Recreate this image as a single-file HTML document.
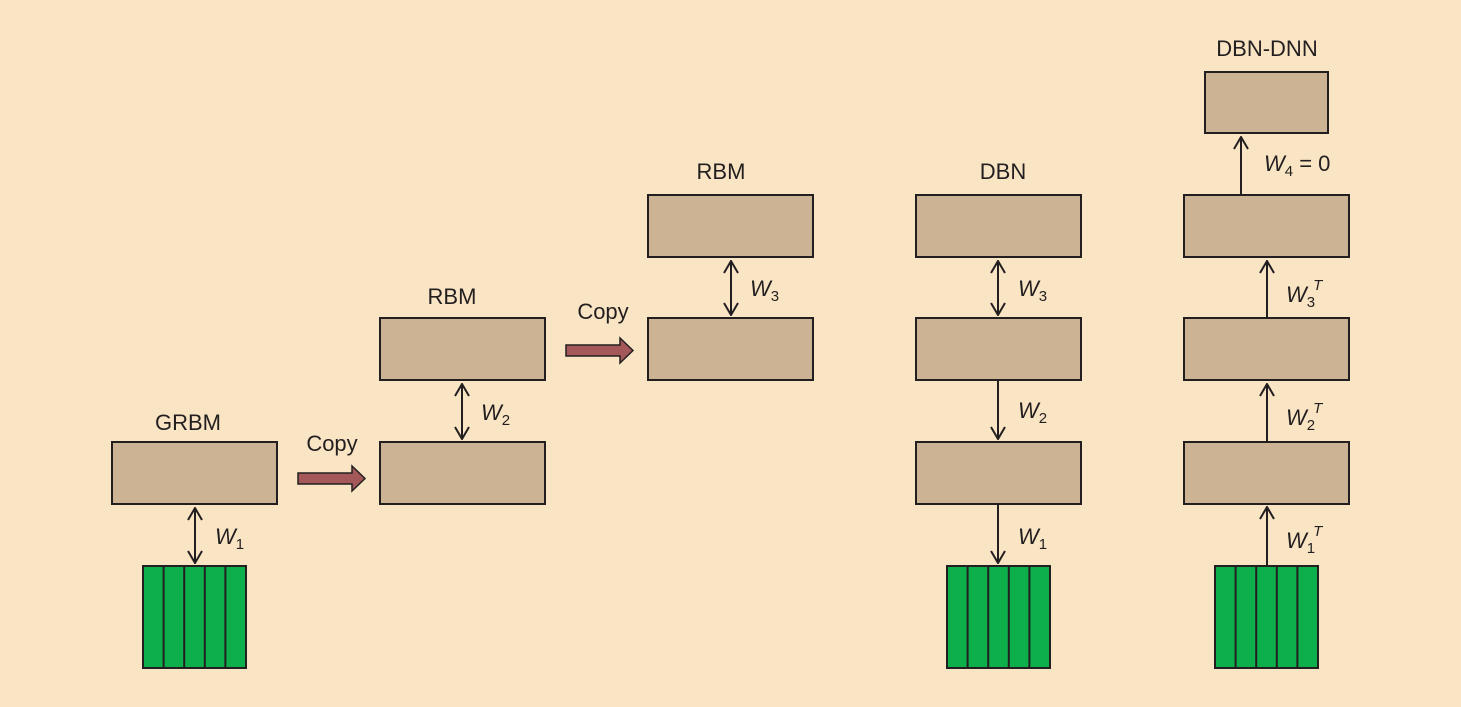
<!DOCTYPE html>
<html><head><style>
html,body{margin:0;padding:0;background:#f9e4c4;overflow:hidden;width:1461px;height:707px;}
svg{display:block;}
text{font-family:"Liberation Sans",Arial,sans-serif;fill:#231f20;}
</style></head><body>
<svg width="1461" height="707" viewBox="0 0 1461 707" xmlns="http://www.w3.org/2000/svg">
<defs>
<marker id="h" viewBox="0 0 14 16" refX="13" refY="8" markerWidth="14" markerHeight="16" markerUnits="userSpaceOnUse" orient="auto-start-reverse">
<path d="M1 1 L13 8 L1 15" fill="none" stroke="#231f20" stroke-width="2"/>
</marker>
<g id="grid">
<rect x="0" y="0" width="103" height="102" fill="#0daf4b" stroke="#231f20" stroke-width="2"/>
<line x1="20.6" y1="0" x2="20.6" y2="102" stroke="#231f20" stroke-width="2"/>
<line x1="41.2" y1="0" x2="41.2" y2="102" stroke="#231f20" stroke-width="2"/>
<line x1="61.8" y1="0" x2="61.8" y2="102" stroke="#231f20" stroke-width="2"/>
<line x1="82.4" y1="0" x2="82.4" y2="102" stroke="#231f20" stroke-width="2"/>
</g>
</defs>
<g fill="#cbb393" stroke="#231f20" stroke-width="2">
<rect x="112" y="442" width="165" height="62"/>
<rect x="380" y="318" width="165" height="62"/>
<rect x="380" y="442" width="165" height="62"/>
<rect x="648" y="195" width="165" height="62"/>
<rect x="648" y="318" width="165" height="62"/>
<rect x="916" y="195" width="165" height="62"/>
<rect x="916" y="318" width="165" height="62"/>
<rect x="916" y="442" width="165" height="62"/>
<rect x="1205" y="72" width="123" height="61"/>
<rect x="1184" y="195" width="165" height="62"/>
<rect x="1184" y="318" width="165" height="62"/>
<rect x="1184" y="442" width="165" height="62"/>
</g>
<use href="#grid" x="143" y="566"/>
<use href="#grid" x="947" y="566"/>
<use href="#grid" x="1215" y="566"/>
<g stroke="#231f20" stroke-width="2" fill="none">
<line x1="195" y1="508" x2="195" y2="563" marker-start="url(#h)" marker-end="url(#h)"/>
<line x1="462" y1="384" x2="462" y2="439" marker-start="url(#h)" marker-end="url(#h)"/>
<line x1="731" y1="261" x2="731" y2="315" marker-start="url(#h)" marker-end="url(#h)"/>
<line x1="998" y1="261" x2="998" y2="315" marker-start="url(#h)" marker-end="url(#h)"/>
<line x1="998" y1="381" x2="998" y2="439" marker-end="url(#h)"/>
<line x1="998" y1="505" x2="998" y2="563" marker-end="url(#h)"/>
<line x1="1267" y1="565" x2="1267" y2="507" marker-end="url(#h)"/>
<line x1="1267" y1="441" x2="1267" y2="384" marker-end="url(#h)"/>
<line x1="1267" y1="317" x2="1267" y2="261" marker-end="url(#h)"/>
<line x1="1241" y1="194" x2="1241" y2="137" marker-end="url(#h)"/>
</g>
<g fill="#a5585a" stroke="#231f20" stroke-width="1.5">
<path d="M298 473 H352 V466 L365 478.5 L352 491 V484 H298 Z"/>
<path d="M566 345 H620 V338 L633 350.5 L620 363 V356 H566 Z"/>
</g>
<g font-size="22" text-anchor="middle">
<text x="188" y="430">GRBM</text>
<text x="452" y="304">RBM</text>
<text x="721" y="179">RBM</text>
<text x="1003" y="179">DBN</text>
<text x="1267" y="56">DBN-DNN</text>
<text x="332" y="451">Copy</text>
<text x="603" y="319">Copy</text>
</g>
<g font-size="22">
<text x="215" y="544"><tspan font-style="italic">W</tspan><tspan font-size="15" dy="5">1</tspan></text>
<text x="481" y="420"><tspan font-style="italic">W</tspan><tspan font-size="15" dy="5">2</tspan></text>
<text x="750" y="296"><tspan font-style="italic">W</tspan><tspan font-size="15" dy="5">3</tspan></text>
<text x="1018" y="296"><tspan font-style="italic">W</tspan><tspan font-size="15" dy="5">3</tspan></text>
<text x="1018" y="418"><tspan font-style="italic">W</tspan><tspan font-size="15" dy="5">2</tspan></text>
<text x="1018" y="544"><tspan font-style="italic">W</tspan><tspan font-size="15" dy="5">1</tspan></text>
<text x="1264" y="171"><tspan font-style="italic">W</tspan><tspan font-size="15" dy="5">4</tspan><tspan dy="-5"> = 0</tspan></text>
<text x="1286" y="302"><tspan font-style="italic">W</tspan><tspan font-size="15" dy="5">3</tspan><tspan font-size="15" font-style="italic" dy="-17" dx="-2">T</tspan></text>
<text x="1286" y="425"><tspan font-style="italic">W</tspan><tspan font-size="15" dy="5">2</tspan><tspan font-size="15" font-style="italic" dy="-17" dx="-2">T</tspan></text>
<text x="1286" y="548"><tspan font-style="italic">W</tspan><tspan font-size="15" dy="5">1</tspan><tspan font-size="15" font-style="italic" dy="-17" dx="-2">T</tspan></text>
</g>
</svg>
</body></html>
